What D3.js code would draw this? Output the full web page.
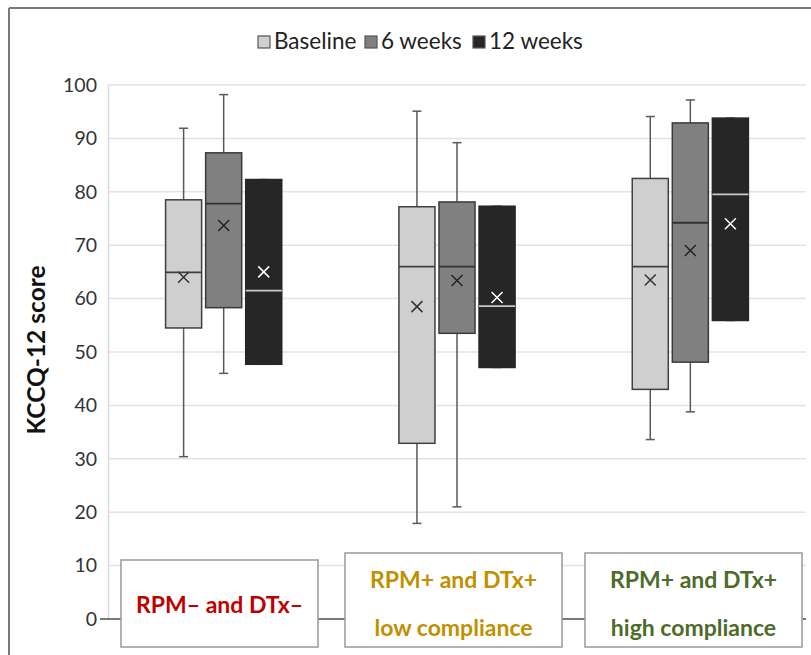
<!DOCTYPE html>
<html>
<head>
<meta charset="utf-8">
<script src="https://cdn.jsdelivr.net/npm/d3@7"></script>
<style>
  body { margin: 0; background: #fff; }
  svg text { font-family: Lato, "Open Sans", sans-serif; }
</style>
</head>
<body>
<div id="chart"></div>
<script>
// groups on the x axis, series inside each group
const groups = ["g1", "g2", "g3"];
const groupLines = [["RPM\u2013 and DTx\u2013"], ["RPM+ and DTx+", "low compliance"], ["RPM+ and DTx+", "high compliance"]];
const groupColors = ["#c00000", "#bf9000", "#4e6b2a"];
const series = ["Baseline", "6 weeks", "12 weeks"];
const yTicks = [0, 10, 20, 30, 40, 50, 60, 70, 80, 90, 100];

// box stats, [group][series]
const whiskerLow = [[30.4, 46.0, 47.7], [17.9, 21.0, 47.1], [33.6, 38.8, 55.9]];
const q1 = [[54.5, 58.3, 47.7], [32.9, 53.5, 47.1], [43.0, 48.1, 55.9]];
const median = [[64.9, 77.8, 61.5], [66.0, 66.0, 58.6], [66.0, 74.2, 79.5]];
const q3 = [[78.5, 87.3, 82.3], [77.2, 78.1, 77.3], [82.5, 92.9, 93.8]];
const whiskerHigh = [[91.9, 98.2, 82.3], [95.1, 89.2, 77.3], [94.1, 97.2, 93.8]];
const mean = [[64.0, 73.7, 65.0], [58.5, 63.4, 60.2], [63.5, 69.0, 74.0]];

const fills = ["#d0cfd0", "#808080", "#262626"];
const strokes = ["#404040", "#3a3a3a", "#262626"];
const medianColors = ["#404040", "#333333", "#c8c8c8"];
const meanColors = ["#333333", "#222222", "#ffffff"];

const W = 811, H = 655;
const svg = d3.select("#chart").append("svg")
    .attr("width", W)
    .attr("height", H);

// outer frame (top + left only visible)
svg.append("line").attr("x1", 9).attr("x2", W).attr("y1", 8).attr("y2", 8)
    .attr("stroke", "#7a7a7a").attr("stroke-width", 2);
svg.append("line").attr("x1", 9).attr("x2", 9).attr("y1", 8).attr("y2", H)
    .attr("stroke", "#7a7a7a").attr("stroke-width", 2);

const y = d3.scaleLinear().domain([0, 100]).range([619, 85]);
const x0 = d3.scaleBand().domain(groups).range([107, 807]);
const x1 = d3.scaleBand().domain(series).range([0, x0.bandwidth()])
    .paddingInner(0.1).paddingOuter(1.4625);

// gridlines
svg.append("g").selectAll("line")
    .data(yTicks.filter(d => d > 0))
    .join("line")
    .attr("x1", 108).attr("x2", 806)
    .attr("y1", d => y(d)).attr("y2", d => y(d))
    .attr("stroke", "#e3e3e3").attr("stroke-width", 1.5);

// y axis
const yAxis = svg.append("g")
    .attr("transform", "translate(108,0)")
    .call(d3.axisLeft(y).tickValues(yTicks).tickSize(0).tickPadding(11));
yAxis.select(".domain").attr("stroke", "#d9d9d9").attr("stroke-width", 1.5);
yAxis.selectAll("text")
    .attr("font-size", 19.5)
    .attr("fill", "#333")
    .style("font-family", "Lato, sans-serif");

// zero line
svg.append("line")
    .attr("x1", 100).attr("x2", 806)
    .attr("y1", y(0)).attr("y2", y(0))
    .attr("stroke", "#7a7a7a").attr("stroke-width", 2);

// y title
svg.append("text")
    .attr("transform", `translate(45, ${y(50) - 2}) rotate(-90)`)
    .attr("text-anchor", "middle")
    .attr("font-size", 24.5)
    .attr("font-weight", "bold")
    .attr("fill", "#111")
    .text("KCCQ-12 score");

// boxes
const boxData = [];
groups.forEach((g, gi) => {
    series.forEach((s, si) => {
        boxData.push({
            g: g, s: s, si: si,
            lo: whiskerLow[gi][si], q1: q1[gi][si], med: median[gi][si],
            q3: q3[gi][si], hi: whiskerHigh[gi][si], mean: mean[gi][si]
        });
    });
});

const box = svg.append("g").selectAll("g")
    .data(boxData)
    .join("g")
    .attr("transform", d => `translate(${x0(d.g) + x1(d.s)},0)`);

const bw = x1.bandwidth();
const cap = 9;

// whiskers
box.append("line")
    .attr("x1", bw / 2).attr("x2", bw / 2)
    .attr("y1", d => y(d.hi)).attr("y2", d => y(d.lo))
    .attr("stroke", "#595959").attr("stroke-width", 1.5);
box.append("line")
    .attr("x1", bw / 2 - cap / 2).attr("x2", bw / 2 + cap / 2)
    .attr("y1", d => y(d.hi)).attr("y2", d => y(d.hi))
    .attr("stroke", "#595959").attr("stroke-width", 1.5);
box.append("line")
    .attr("x1", bw / 2 - cap / 2).attr("x2", bw / 2 + cap / 2)
    .attr("y1", d => y(d.lo)).attr("y2", d => y(d.lo))
    .attr("stroke", "#595959").attr("stroke-width", 1.5);

box.append("rect")
    .attr("x", 0)
    .attr("width", bw)
    .attr("y", d => y(d.q3))
    .attr("height", d => y(d.q1) - y(d.q3))
    .attr("fill", d => fills[d.si])
    .attr("stroke", d => strokes[d.si])
    .attr("stroke-width", 1.5);

box.append("line")
    .attr("x1", 0).attr("x2", bw)
    .attr("y1", d => y(d.med)).attr("y2", d => y(d.med))
    .attr("stroke", d => medianColors[d.si]).attr("stroke-width", 1.8);

// mean markers
const mx = 5.5;
box.append("path")
    .attr("d", d => {
        const cx = bw / 2, cy = y(d.mean);
        return `M${cx - mx},${cy - mx}L${cx + mx},${cy + mx}M${cx - mx},${cy + mx}L${cx + mx},${cy - mx}`;
    })
    .attr("stroke", d => meanColors[d.si])
    .attr("stroke-width", 1.5)
    .attr("fill", "none");

// category label boxes
const labelBoxes = [[121, 560, 197, 87], [345, 553, 217, 94], [585, 553, 217, 94]];
const lab = svg.append("g").selectAll("g")
    .data(groups)
    .join("g");
lab.append("rect")
    .attr("x", (d, i) => labelBoxes[i][0])
    .attr("y", (d, i) => labelBoxes[i][1])
    .attr("width", (d, i) => labelBoxes[i][2])
    .attr("height", (d, i) => labelBoxes[i][3])
    .attr("fill", "#fff")
    .attr("stroke", "#999")
    .attr("stroke-width", 1.5);
lab.each(function(d, i) {
    const lines = groupLines[i];
    const b = labelBoxes[i];
    const t = d3.select(this).append("text")
        .attr("text-anchor", "middle")
        .attr("font-size", 23)
        .attr("font-weight", "bold")
        .attr("fill", groupColors[i]);
    if (lines.length === 1) {
        t.append("tspan").attr("x", b[0] + b[2] / 2).attr("y", 613).text(lines[0]);
    } else {
        t.append("tspan").attr("x", b[0] + b[2] / 2).attr("y", 588).text(lines[0]);
        t.append("tspan").attr("x", b[0] + b[2] / 2).attr("y", 636).text(lines[1]);
    }
});

// legend
const legendX = [258, 365, 473];
const leg = svg.append("g").selectAll("g")
    .data(series)
    .join("g")
    .attr("transform", (d, i) => `translate(${legendX[i]},36)`);
leg.append("rect")
    .attr("width", 12).attr("height", 12)
    .attr("fill", (d, i) => fills[i])
    .attr("stroke", "#555").attr("stroke-width", 1.2);
leg.append("text")
    .attr("x", 16).attr("y", 13)
    .attr("font-size", 22.5)
    .attr("fill", "#222")
    .text(d => d);
</script>
</body>
</html>
